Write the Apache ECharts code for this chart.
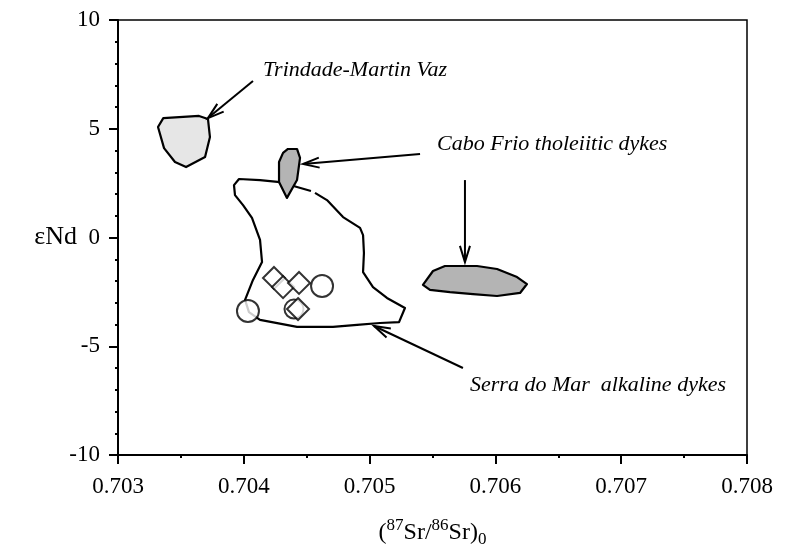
<!DOCTYPE html>
<html>
<head>
<meta charset="utf-8">
<script src="https://cdn.jsdelivr.net/npm/echarts@6/dist/echarts.min.js"></script>
<style>html,body{margin:0;padding:0;background:#fff}#c{width:789px;height:554px}</style>
</head>
<body>
<div id="c"></div>
<script>
// ---- data (87Sr/86Sr)0 , eNd ----
const trindadeField = [[0.70336,5.49],[0.703644,5.59],[0.703715,5.45],[0.703731,4.62],[0.703692,3.70],[0.703541,3.24],[0.703453,3.47],[0.703366,4.11],[0.703318,5.08]];
const caboFrioField = [[0.704351,4.07],[0.704423,4.07],[0.704447,3.66],[0.704423,2.64],[0.704343,1.82],[0.704280,2.55],[0.704280,3.47],[0.704312,3.89]];
const eastField = [[0.705424,-2.18],[0.705504,-1.54],[0.705599,-1.31],[0.705854,-1.31],[0.706013,-1.45],[0.706172,-1.82],[0.706251,-2.14],[0.706196,-2.55],[0.706013,-2.69],[0.705822,-2.60],[0.705639,-2.51],[0.705480,-2.41]];
const serraDoMarOutline = [[0.704566,2.05],[0.704661,1.72],[0.704789,0.94],[0.704924,0.44],[0.704948,0.11],[0.704955,-0.71],[0.704948,-1.59],[0.705027,-2.28],[0.705138,-2.78],[0.705281,-3.24],[0.705234,-3.89],[0.705083,-3.93],[0.704900,-4.02],[0.704709,-4.11],[0.704423,-4.11],[0.704129,-3.79],[0.704041,-3.43],[0.704010,-2.87],[0.704073,-1.95],[0.704145,-1.13],[0.704129,-0.11],[0.704065,0.90],[0.703994,1.49],[0.703930,1.95],[0.703922,2.41],[0.703962,2.69],[0.704129,2.64],[0.704288,2.55],[0.704423,2.32],[0.704534,2.14]];
const circleSamples = [[0.704033,-3.38],[0.704622,-2.23]];
const smallCircleSamples = [[0.704399,-3.29]];
const diamondSamples = [[0.704240,-1.86],[0.704312,-2.28],[0.704439,-2.09],[0.704431,-3.29]];
const arrows = [[0.704073,7.20,0.703715,5.49],[0.705401,3.84,0.704471,3.38],[0.705758,2.64,0.705758,-1.13],[0.705742,-6.00,0.705035,-4.07]];
const labelPos = [[0.704153,7.70],[0.705536,4.30],[0.705798,-6.78]];
const labelText = ['Trindade-Martin Vaz','Cabo Frio tholeiitic dykes','Serra do Mar  alkaline dykes'];
const xTickLabels = ['0.703','0.704','0.705','0.706','0.707','0.708'];

const FONT = '"Liberation Serif", "DejaVu Serif", serif';

function polySeries(points, fill, z) {
  return {
    type: 'custom', data: points, z: z, silent: true,
    renderItem: function (params, api) {
      if (params.dataIndex !== 0) return;
      const pts = points.map(p => api.coord(p));
      return { type: 'polygon', shape: { points: pts }, style: { fill: fill, stroke: '#000', lineWidth: 2.2, lineJoin: 'round' } };
    }
  };
}

const chart = echarts.init(document.getElementById('c'), null, { renderer: 'canvas' });
chart.setOption({
  backgroundColor: '#fff',
  animation: false,
  grid: { left: 118, right: 42, top: 20, bottom: 99, show: true, borderColor: '#000', borderWidth: 1.5 },
  xAxis: {
    type: 'value', min: 0.703, max: 0.708, interval: 0.001,
    axisLine: { onZero: false, lineStyle: { color: '#000', width: 2 } },
    axisTick: { length: 9, lineStyle: { color: '#000', width: 2 } },
    minorTick: { show: true, splitNumber: 2, length: 3, lineStyle: { color: '#000', width: 2 } },
    splitLine: { show: false },
    axisLabel: { color: '#000', fontFamily: FONT, fontSize: 23, margin: 20,
      formatter: function (v) { return xTickLabels[Math.round((v - 0.703) * 1000)] || v.toFixed(3); } },
    name: '({sup|87}Sr/{sup|86}Sr){sub|0}', nameLocation: 'middle', nameGap: 62, nameMoveOverlap: false,
    nameTextStyle: { color: '#000', fontFamily: FONT, fontSize: 24,
      rich: { sup: { fontFamily: FONT, fontSize: 17, color: '#000', padding: [0, 0, 14, 0] },
              sub: { fontFamily: FONT, fontSize: 17, color: '#000', padding: [14, 0, 0, 0] } } }
  },
  yAxis: {
    type: 'value', min: -10, max: 10, interval: 5,
    axisLine: { onZero: false, lineStyle: { color: '#000', width: 2 } },
    axisTick: { length: 9, lineStyle: { color: '#000', width: 2 } },
    minorTick: { show: true, splitNumber: 5, length: 3, lineStyle: { color: '#000', width: 2 } },
    splitLine: { show: false },
    axisLabel: { color: '#000', fontFamily: FONT, fontSize: 23, margin: 18 },
    name: 'εNd', nameLocation: 'middle', nameRotate: 0, nameGap: 41, nameMoveOverlap: false,
    nameTextStyle: { color: '#000', fontFamily: FONT, fontSize: 26 }
  },
  series: [
    { type: 'line', data: serraDoMarOutline, symbol: 'none', z: 2, silent: true,
      lineStyle: { color: '#000', width: 2.2, join: 'round' } },
    polySeries(trindadeField, '#e6e6e6', 3),
    polySeries(caboFrioField, '#b4b4b4', 4),
    polySeries(eastField, '#b4b4b4', 3),
    { type: 'scatter', data: circleSamples, symbol: 'circle', symbolSize: 22, z: 5,
      itemStyle: { color: '#fff', borderColor: '#000', borderWidth: 2 } },
    { type: 'scatter', data: smallCircleSamples, symbol: 'circle', symbolSize: 19, z: 5,
      itemStyle: { color: '#fff', borderColor: '#000', borderWidth: 2 } },
    { type: 'scatter', data: diamondSamples, symbol: 'diamond', symbolSize: 22, z: 6,
      itemStyle: { color: '#fff', borderColor: '#000', borderWidth: 2 } },
    { type: 'custom', data: arrows, z: 7, silent: true, encode: { x: [0, 2], y: [1, 3] },
      renderItem: function (params, api) {
        const p1 = api.coord([api.value(0), api.value(1)]);
        const p2 = api.coord([api.value(2), api.value(3)]);
        const ang = Math.atan2(p1[1] - p2[1], p1[0] - p2[0]);
        const L = 17, a = 0.3;
        const h1 = [p2[0] + L * Math.cos(ang + a), p2[1] + L * Math.sin(ang + a)];
        const h2 = [p2[0] + L * Math.cos(ang - a), p2[1] + L * Math.sin(ang - a)];
        const st = { stroke: '#000', lineWidth: 2, fill: null };
        return { type: 'group', children: [
          { type: 'line', shape: { x1: p1[0], y1: p1[1], x2: p2[0], y2: p2[1] }, style: st },
          { type: 'polyline', shape: { points: [h1, p2, h2] }, style: st }
        ] };
      } },
    { type: 'custom', data: labelPos, z: 8, silent: true,
      renderItem: function (params, api) {
        const p = api.coord([api.value(0), api.value(1)]);
        return { type: 'text', x: p[0], y: p[1], style: { text: labelText[params.dataIndex], fill: '#000',
          font: 'italic 22px ' + FONT, textAlign: 'left', textVerticalAlign: 'middle' } };
      } }
  ]
});
</script>
</body>
</html>
